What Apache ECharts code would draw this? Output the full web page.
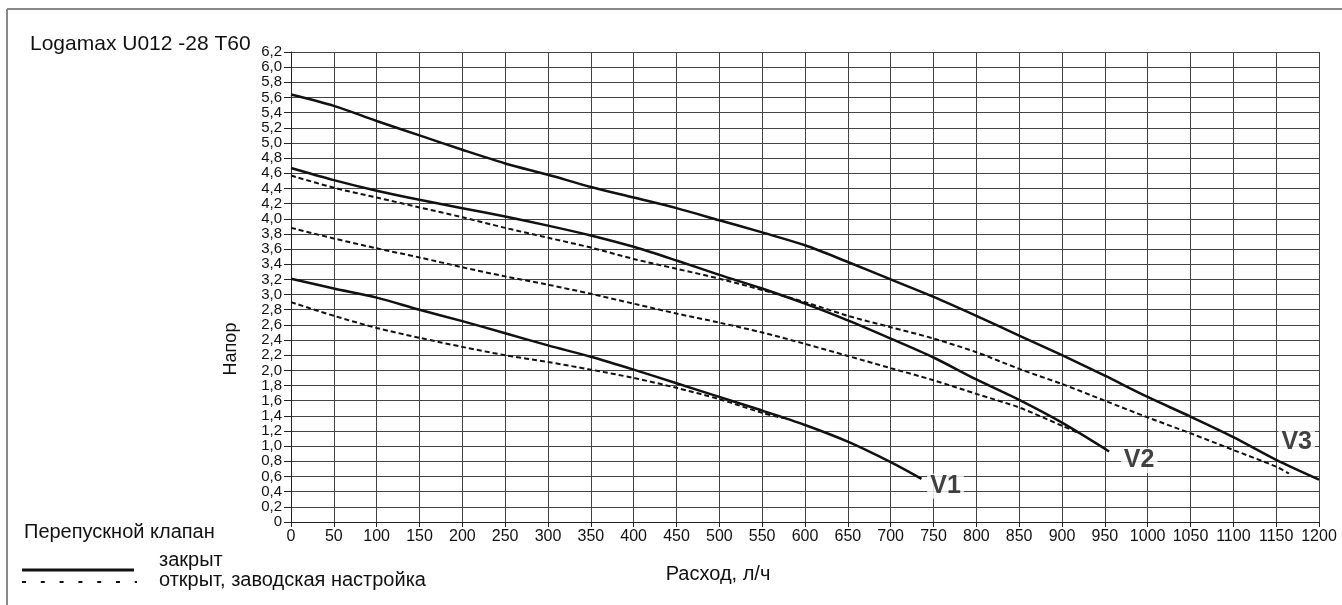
<!DOCTYPE html>
<html>
<head>
<meta charset="utf-8">
<script src="https://cdn.jsdelivr.net/npm/echarts@6/dist/echarts.min.js"></script>
<style>
html, body { margin: 0; padding: 0; background: #fff; }
#chart { width: 1342px; height: 605px; }
</style>
</head>
<body>
<div id="chart"></div>
<script>
// расход, л/ч и напор для каждой кривой
var flowV1Closed = [0, 50, 100, 150, 200, 250, 300, 350, 400, 450, 500, 550, 600, 650, 700, 736];
var headV1Closed = [3.21, 3.08, 2.96, 2.80, 2.65, 2.49, 2.33, 2.18, 2.01, 1.83, 1.65, 1.47, 1.28, 1.06, 0.79, 0.57];
var flowV1Open = [0, 50, 100, 150, 200, 250, 300, 350, 400, 450, 500, 550, 575];
var headV1Open = [2.90, 2.72, 2.56, 2.43, 2.31, 2.20, 2.11, 2.01, 1.90, 1.77, 1.62, 1.44, 1.37];

var flowV2Closed = [0, 50, 100, 150, 200, 250, 300, 350, 400, 450, 500, 550, 600, 650, 700, 750, 800, 850, 900, 955];
var headV2Closed = [4.67, 4.51, 4.37, 4.25, 4.14, 4.03, 3.91, 3.78, 3.63, 3.45, 3.26, 3.08, 2.88, 2.66, 2.42, 2.17, 1.88, 1.61, 1.31, 0.93];
var flowV2Open = [0, 50, 100, 150, 200, 250, 300, 350, 400, 450, 500, 550, 600, 650, 700, 750, 800, 850, 900, 920];
var headV2Open = [3.88, 3.74, 3.61, 3.49, 3.36, 3.24, 3.13, 3.01, 2.88, 2.75, 2.63, 2.50, 2.35, 2.19, 2.03, 1.87, 1.69, 1.51, 1.27, 1.17];

var flowV3Closed = [0, 50, 100, 150, 200, 250, 300, 350, 400, 450, 500, 550, 600, 650, 700, 750, 800, 850, 900, 950, 1000, 1050, 1100, 1150, 1200];
var headV3Closed = [5.64, 5.49, 5.29, 5.10, 4.91, 4.73, 4.58, 4.42, 4.28, 4.14, 3.98, 3.82, 3.65, 3.43, 3.20, 2.97, 2.72, 2.46, 2.20, 1.93, 1.65, 1.39, 1.12, 0.82, 0.56];
var flowV3Open = [0, 50, 100, 150, 200, 250, 300, 350, 400, 450, 500, 550, 600, 650, 700, 750, 800, 850, 900, 950, 1000, 1050, 1100, 1150, 1165];
var headV3Open = [4.57, 4.41, 4.28, 4.15, 4.02, 3.88, 3.75, 3.62, 3.47, 3.34, 3.21, 3.06, 2.90, 2.72, 2.57, 2.42, 2.24, 2.02, 1.82, 1.60, 1.38, 1.17, 0.95, 0.73, 0.64];

// подписи кривых
var curveNames = ['V1', 'V2', 'V3'];
var curveLabelFlow = [764, 990, 1174];
var curveLabelHead = [0.47, 0.81, 1.06];

function pairs(xs, ys) {
    return xs.map(function (x, i) { return [x, ys[i]]; });
}

var myChart = echarts.init(document.getElementById('chart'));
var fontMain = "'Liberation Sans', Arial, sans-serif";

function curve(name, xs, ys, dashed) {
    return {
        name: name,
        type: 'line',
        smooth: 0.3,
        symbol: 'none',
        silent: true,
        data: pairs(xs, ys),
        lineStyle: {
            color: '#111',
            width: dashed ? 2 : 2.5,
            type: dashed ? [5, 3] : 'solid'
        },
        z: dashed ? 3 : 4
    };
}

var option = {
    animation: false,
    backgroundColor: '#fff',
    grid: { left: 291, right: 23, top: 52, bottom: 83 },
    xAxis: {
        type: 'value',
        min: 0, max: 1200, interval: 50,
        name: 'Расход, л/ч',
        nameLocation: 'middle',
        nameGap: 42,
        nameTextStyle: { fontFamily: fontMain, fontSize: 20, color: '#111', padding: [0, 174, 0, 0] },
        axisLine: { show: true, lineStyle: { color: '#222', width: 1 } },
        axisTick: { show: true, length: 5, lineStyle: { color: '#222' } },
        axisLabel: {
            fontFamily: fontMain, fontSize: 16, color: '#111', margin: 7,
            formatter: function (v) { return String(v); }
        },
        splitLine: { show: true, lineStyle: { color: '#444', width: 1 } }
    },
    yAxis: {
        type: 'value',
        min: 0, max: 6.2, interval: 0.2,
        axisLine: { show: true, lineStyle: { color: '#222', width: 1 } },
        axisTick: { show: true, length: 7, lineStyle: { color: '#222' } },
        axisLabel: {
            fontFamily: fontMain, fontSize: 15, color: '#111', margin: 9,
            formatter: function (v) {
                return v === 0 ? '0' : v.toFixed(1).replace('.', ',');
            }
        },
        splitLine: { show: true, lineStyle: { color: '#444', width: 1 } }
    },
    graphic: [
        { type: 'line', shape: { x1: 7, y1: 9, x2: 1342, y2: 9 }, style: { stroke: '#888', lineWidth: 2 } },
        { type: 'line', shape: { x1: 7, y1: 9, x2: 7, y2: 605 }, style: { stroke: '#888', lineWidth: 2 } },
        { type: 'text', left: 30, top: 34, style: { text: 'Logamax U012 -28 T60', font: '21px ' + fontMain, fill: '#111' } },
        { type: 'text', x: 231, y: 349, rotation: Math.PI / 2, style: { text: 'Напор', font: '18px ' + fontMain, fill: '#111', textAlign: 'center', textVerticalAlign: 'middle' } },
        { type: 'text', left: 24, top: 522, style: { text: 'Перепускной клапан', font: '20px ' + fontMain, fill: '#111' } },
        { type: 'line', shape: { x1: 22, y1: 570, x2: 134, y2: 570 }, style: { stroke: '#111', lineWidth: 3 } },
        { type: 'text', left: 159, top: 550, style: { text: 'закрыт', font: '20px ' + fontMain, fill: '#111' } },
        { type: 'line', shape: { x1: 22, y1: 582, x2: 137, y2: 582 }, style: { stroke: '#111', lineWidth: 2, lineDash: [4, 14.8] } },
        { type: 'text', left: 159, top: 570, style: { text: 'открыт, заводская настройка', font: '20px ' + fontMain, fill: '#111' } }
    ],
    series: [
        curve('V1 закрыт', flowV1Closed, headV1Closed, false),
        curve('V1 открыт', flowV1Open, headV1Open, true),
        curve('V2 закрыт', flowV2Closed, headV2Closed, false),
        curve('V2 открыт', flowV2Open, headV2Open, true),
        curve('V3 закрыт', flowV3Closed, headV3Closed, false),
        curve('V3 открыт', flowV3Open, headV3Open, true),
        {
            type: 'scatter',
            symbolSize: 0,
            silent: true,
            z: 6,
            data: curveNames.map(function (n, i) {
                return { name: n, value: [curveLabelFlow[i], curveLabelHead[i]] };
            }),
            label: {
                show: true,
                position: 'inside',
                formatter: '{b}',
                fontFamily: fontMain,
                fontWeight: 'bold',
                fontSize: 25,
                color: '#111',
                backgroundColor: '#fff',
                padding: [0, 3, 0, 3]
            }
        }
    ]
};
myChart.setOption(option);
</script>
</body>
</html>
